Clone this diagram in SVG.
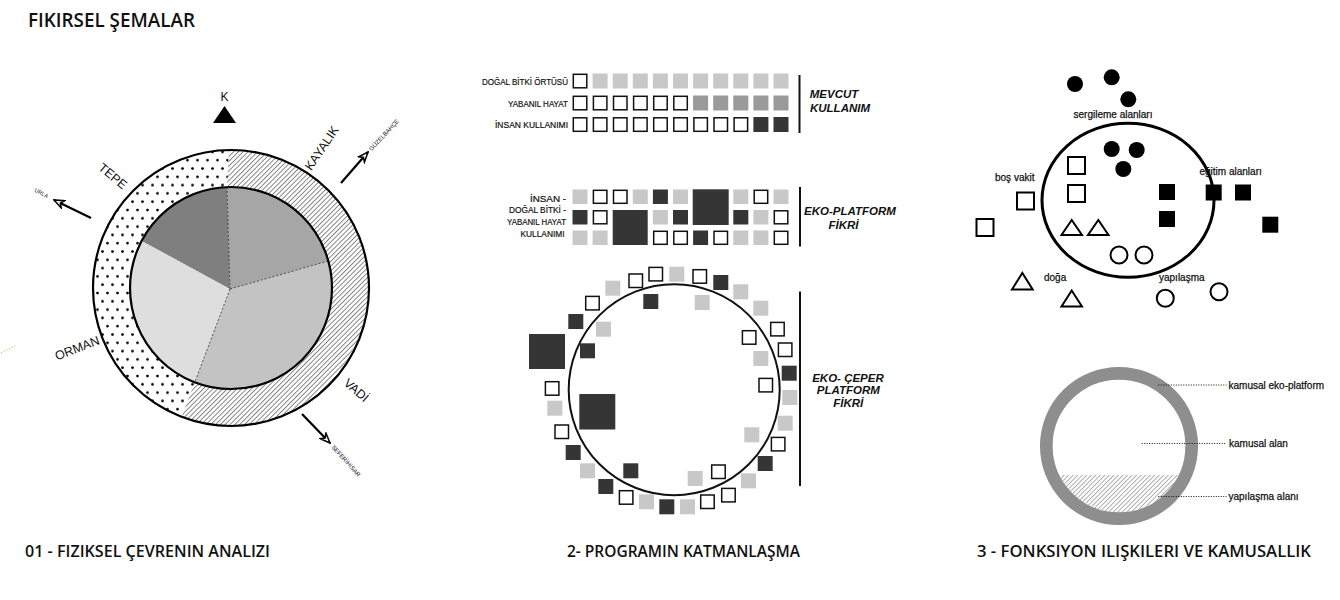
<svg xmlns="http://www.w3.org/2000/svg" width="1340" height="600" viewBox="0 0 1340 600">
<style>
.h{font-family:"Open Sans","Noto Sans","Liberation Sans",sans-serif;font-weight:600;fill:#111}
.lb{font-family:"Liberation Sans",Arial,sans-serif;fill:#111}
.bi{font-family:"Liberation Sans",Arial,sans-serif;font-weight:bold;font-style:italic;font-size:11.5px;fill:#111;text-anchor:middle}
.sm{font-family:"Liberation Sans",Arial,sans-serif;font-size:9px;fill:#111;stroke:#111;stroke-width:0.2;text-anchor:end}
.rt{font-family:"Liberation Sans",Arial,sans-serif;font-size:10px;fill:#111;stroke:#111;stroke-width:0.25}
.o{fill:#fff;stroke:#111;stroke-width:1.5}
.l{fill:#c8c8c8}
.m{fill:#9a9a9a}
.d{fill:#353535}
.ro{fill:none;stroke:#000;stroke-width:2}
.rf{fill:#000}
.dash{stroke:#333;stroke-width:0.8;stroke-dasharray:2.2,1.8;fill:none}
.arrow{stroke:#000;stroke-width:2.2;fill:none;marker-end:url(#arr)}
.lead{stroke:#111;stroke-width:1;stroke-dasharray:1,1.5;fill:none}
.bar{stroke:#111;stroke-width:2}
</style>
<defs>
<pattern id="dots" width="10" height="16.6" patternUnits="userSpaceOnUse">
<rect width="10" height="16.6" fill="#fff"/>
<circle cx="2.5" cy="2.5" r="1.4" fill="#000"/>
<circle cx="7.5" cy="10.8" r="1.4" fill="#000"/>
</pattern>
<pattern id="hatch" width="3.4" height="3.4" patternUnits="userSpaceOnUse" patternTransform="rotate(45)">
<rect width="3.4" height="3.4" fill="#fff"/>
<line x1="0.5" y1="0" x2="0.5" y2="3.4" stroke="#666" stroke-width="0.8"/>
</pattern>
<pattern id="hatch2" width="3.2" height="3.2" patternUnits="userSpaceOnUse" patternTransform="rotate(45)">
<rect width="3.2" height="3.2" fill="#fff"/>
<line x1="0.5" y1="0" x2="0.5" y2="3.2" stroke="#999" stroke-width="0.8"/>
</pattern>
<clipPath id="lowClip">
<rect x="1040" y="475" width="160" height="60"/>
</clipPath>
<marker id="arr" viewBox="0 0 12 10" refX="11" refY="5" markerWidth="12" markerHeight="10" markerUnits="userSpaceOnUse" orient="auto">
<path d="M1,1 L11,5 L1,9 L4,5 Z" fill="#fff" stroke="#000" stroke-width="1.5" stroke-linejoin="miter"/>
</marker>
</defs>
<rect width="1340" height="600" fill="#fff"/>

<g id="titles">
<text class="h" x="28" y="27" font-size="19" textLength="167" lengthAdjust="spacingAndGlyphs">FIKIRSEL ŞEMALAR</text>
<text class="h" x="25" y="557" font-size="16.5" textLength="245" lengthAdjust="spacingAndGlyphs">01 - FIZIKSEL ÇEVRENIN ANALIZI</text>
<text class="h" x="567" y="557" font-size="16.5" textLength="233" lengthAdjust="spacingAndGlyphs">2- PROGRAMIN KATMANLAŞMA</text>
<text class="h" x="977" y="557" font-size="16.5" textLength="334" lengthAdjust="spacingAndGlyphs">3 - FONKSIYON ILIŞKILERI VE KAMUSALLIK</text>
</g>

<!-- Diagram 1 -->
<g id="site-analysis">
<circle cx="231" cy="288" r="138" fill="url(#hatch)"/>
<path d="M229,150 A138,138 0 0 0 181.5,416.8 L194.8,382.3 A101,101 0 0 1 227,187.1 Z" fill="url(#dots)"/>
<path d="M230,289 L141.7,240.9 A101,101 0 0 1 227,187.1 Z" fill="#7f7f7f"/>
<path d="M230,289 L227,187.1 A101,101 0 0 1 328.3,261 Z" fill="#a6a6a6"/>
<path d="M230,289 L328.3,261 A101,101 0 0 1 194.8,382.3 Z" fill="#c3c3c3"/>
<path d="M230,289 L194.8,382.3 A101,101 0 0 1 141.7,240.9 Z" fill="#dedede"/>
<line class="dash" x1="230" y1="289" x2="227" y2="187.1"/>
<line class="dash" x1="230" y1="289" x2="328.3" y2="261"/>
<line class="dash" x1="230" y1="289" x2="194.8" y2="382.3"/>
<circle cx="231" cy="288" r="138" fill="none" stroke="#000" stroke-width="2.2"/>
<circle cx="231" cy="288" r="101" fill="none" stroke="#000" stroke-width="2.2"/>
</g>
<g id="north">
<text class="lb" x="224.5" y="101" font-size="12" text-anchor="middle">K</text>
<polygon points="213,123 236,123 224.5,106" fill="#000"/>
</g>
<g id="site-labels" class="lb" font-size="12.5" text-anchor="middle">
<text transform="translate(113,176) rotate(40)" y="4.5">TEPE</text>
<text transform="translate(321.5,148) rotate(-56)" y="4.5">KAYALIK</text>
<text transform="translate(77,348) rotate(-21)" y="4.5">ORMAN</text>
<text transform="translate(356.5,390) rotate(41)" y="4.5">VADİ</text>
<text transform="translate(41.5,193) rotate(28)" y="2" font-size="5.5">URLA</text>
<text transform="translate(384,135) rotate(-47)" y="2" font-size="6">GÜZELBAHÇE</text>
<text transform="translate(346,461) rotate(48)" y="2" font-size="6">SEFERİHİSAR</text>
</g>

<!-- Diagram 2 -->
<g id="mevcut-rows">
<text class="sm" x="568" y="85" textLength="86" lengthAdjust="spacingAndGlyphs">DOĞAL BİTKİ ÖRTÜSÜ</text>
<text class="sm" x="568" y="106.5" textLength="60" lengthAdjust="spacingAndGlyphs">YABANIL HAYAT</text>
<text class="sm" x="568" y="128" textLength="73" lengthAdjust="spacingAndGlyphs">İNSAN KULLANIMI</text>
<rect class="o" x="573.3" y="74.3" width="13.5" height="13.5"/>
<rect class="l" x="592.6" y="73.5" width="15" height="15"/>
<rect class="l" x="612.7" y="73.5" width="15" height="15"/>
<rect class="l" x="632.8" y="73.5" width="15" height="15"/>
<rect class="l" x="652.9" y="73.5" width="15" height="15"/>
<rect class="l" x="673" y="73.5" width="15" height="15"/>
<rect class="l" x="693.1" y="73.5" width="15" height="15"/>
<rect class="l" x="713.2" y="73.5" width="15" height="15"/>
<rect class="l" x="733.3" y="73.5" width="15" height="15"/>
<rect class="l" x="753.4" y="73.5" width="15" height="15"/>
<rect class="l" x="773.5" y="73.5" width="15" height="15"/>

<rect class="o" x="573.3" y="96.3" width="13.5" height="13.5"/>
<rect class="o" x="593.4" y="96.3" width="13.5" height="13.5"/>
<rect class="o" x="613.5" y="96.3" width="13.5" height="13.5"/>
<rect class="o" x="633.6" y="96.3" width="13.5" height="13.5"/>
<rect class="o" x="653.7" y="96.3" width="13.5" height="13.5"/>
<rect class="o" x="673.8" y="96.3" width="13.5" height="13.5"/>
<rect class="m" x="693.1" y="95.5" width="15" height="15"/>
<rect class="m" x="713.2" y="95.5" width="15" height="15"/>
<rect class="m" x="733.3" y="95.5" width="15" height="15"/>
<rect class="m" x="753.4" y="95.5" width="15" height="15"/>
<rect class="m" x="773.5" y="95.5" width="15" height="15"/>

<rect class="o" x="573.3" y="117.8" width="13.5" height="13.5"/>
<rect class="o" x="593.4" y="117.8" width="13.5" height="13.5"/>
<rect class="o" x="613.5" y="117.8" width="13.5" height="13.5"/>
<rect class="o" x="633.6" y="117.8" width="13.5" height="13.5"/>
<rect class="o" x="653.7" y="117.8" width="13.5" height="13.5"/>
<rect class="o" x="673.8" y="117.8" width="13.5" height="13.5"/>
<rect class="o" x="693.9" y="117.8" width="13.5" height="13.5"/>
<rect class="o" x="714" y="117.8" width="13.5" height="13.5"/>
<rect class="o" x="734.1" y="117.8" width="13.5" height="13.5"/>
<rect class="d" x="753.4" y="117" width="15" height="15"/>
<rect class="d" x="773.5" y="117" width="15" height="15"/>
<line class="bar" x1="799.5" y1="75" x2="799.5" y2="133"/>
<text class="bi" x="834" y="98">MEVCUT</text>
<text class="bi" x="840" y="112">KULLANIM</text>
</g>

<g id="eko-platform-rows">
<text class="sm" x="566" y="201.5" textLength="36" lengthAdjust="spacingAndGlyphs">İNSAN -</text>
<text class="sm" x="566" y="213" textLength="57" lengthAdjust="spacingAndGlyphs">DOĞAL BİTKİ -</text>
<text class="sm" x="566" y="225" textLength="59" lengthAdjust="spacingAndGlyphs">YABANIL HAYAT</text>
<text class="sm" x="564.5" y="236.5" textLength="44" lengthAdjust="spacingAndGlyphs">KULLANIMI</text>
<rect class="l" x="572.5" y="189.5" width="15" height="14.5"/>
<rect class="o" x="593.4" y="190.3" width="13.5" height="13"/>
<rect class="o" x="613.5" y="190.3" width="13.5" height="13"/>
<rect class="l" x="632.8" y="189.5" width="15" height="14.5"/>
<rect class="d" x="652.9" y="189.5" width="15" height="14.5"/>
<rect class="l" x="673" y="189.5" width="15" height="14.5"/>
<rect class="d" x="692.7" y="189.3" width="36" height="35.7"/>
<rect class="l" x="733.3" y="189.5" width="15" height="14.5"/>
<rect class="o" x="754.2" y="190.3" width="13.5" height="13"/>
<rect class="l" x="773.5" y="189.5" width="15" height="14.5"/>

<rect class="d" x="572.5" y="210" width="15" height="14.5"/>
<rect class="o" x="593.4" y="210.8" width="13.5" height="13"/>
<rect class="d" x="612.7" y="210" width="35" height="35"/>
<rect class="l" x="652.9" y="210" width="15" height="14.5"/>
<rect class="d" x="673" y="210" width="15" height="14.5"/>
<rect class="d" x="733.3" y="210" width="15" height="14.5"/>
<rect class="l" x="753.4" y="210" width="15" height="14.5"/>
<rect class="o" x="774.3" y="210.8" width="13.5" height="13"/>

<rect class="l" x="572.5" y="230.5" width="15" height="14.5"/>
<rect class="l" x="592.6" y="230.5" width="15" height="14.5"/>
<rect class="o" x="653.7" y="231.3" width="13.5" height="13"/>
<rect class="o" x="673.8" y="231.3" width="13.5" height="13"/>
<rect class="d" x="693.1" y="230.5" width="15" height="14.5"/>
<rect class="o" x="714" y="231.3" width="13.5" height="13"/>
<rect class="l" x="733.3" y="230.5" width="15" height="14.5"/>
<rect class="l" x="753.4" y="230.5" width="15" height="14.5"/>
<rect class="o" x="774.3" y="231.3" width="13.5" height="13"/>
<line class="bar" x1="800" y1="187" x2="800" y2="246.5"/>
<text class="bi" x="850" y="215">EKO-PLATFORM</text>
<text class="bi" x="843.5" y="229">FİKRİ</text>
</g>

<g id="eko-ceper-ring">
<circle cx="674.2" cy="389.7" r="105.5" fill="none" stroke="#111" stroke-width="2"/>
<rect class="o" x="649" y="267.4" width="13.5" height="13.5"/>
<rect class="l" x="669.3" y="266.7" width="15" height="15"/>
<rect class="o" x="693" y="269.7" width="13.5" height="13.5"/>
<rect class="d" x="713.3" y="275" width="15" height="15"/>
<rect class="l" x="733.3" y="284.3" width="15" height="15"/>
<rect class="l" x="753.3" y="300.7" width="15" height="15"/>
<rect class="o" x="770.7" y="322.4" width="13.5" height="13.5"/>
<rect class="o" x="742.4" y="330.7" width="13.5" height="13.5"/>
<rect class="o" x="778.4" y="343" width="13.5" height="13.5"/>
<rect class="l" x="753.3" y="351" width="15" height="15"/>
<rect class="d" x="781.7" y="365.7" width="15" height="15"/>
<rect class="o" x="759" y="378.4" width="13.5" height="13.5"/>
<rect class="l" x="782.3" y="390" width="15" height="15"/>
<rect class="l" x="777.7" y="415.7" width="15" height="15"/>
<rect class="l" x="744.3" y="427.3" width="15" height="15"/>
<rect class="o" x="771.4" y="437.4" width="13.5" height="13.5"/>
<rect class="d" x="757.7" y="456" width="15" height="15"/>
<rect class="l" x="741" y="473.3" width="15" height="15"/>
<rect class="o" x="721.7" y="488.4" width="13.5" height="13.5"/>
<rect class="o" x="711.7" y="465" width="13.5" height="13.5"/>
<rect class="l" x="687.7" y="471" width="15" height="15"/>
<rect class="o" x="700.7" y="495" width="13.5" height="13.5"/>
<rect class="l" x="680" y="499.3" width="15" height="15"/>
<rect class="d" x="659.3" y="499.3" width="15" height="15"/>
<rect class="l" x="639" y="494.3" width="15" height="15"/>
<rect class="o" x="619.4" y="490.7" width="13.5" height="13.5"/>
<rect class="d" x="623.3" y="463.3" width="15" height="15"/>
<rect class="d" x="598.3" y="479" width="15" height="15"/>
<rect class="l" x="580" y="463.3" width="15" height="15"/>
<rect class="d" x="565.7" y="445" width="15" height="15"/>
<rect class="o" x="555" y="425" width="13.5" height="13.5"/>
<rect class="l" x="547.3" y="400.7" width="15" height="15"/>
<rect class="o" x="545.4" y="381.7" width="13.5" height="13.5"/>
<rect class="d" x="529" y="334" width="36" height="35"/>
<rect class="d" x="579.3" y="394" width="36" height="35.5"/>
<rect class="d" x="580" y="343.3" width="15" height="15"/>
<rect class="l" x="596" y="321.7" width="15" height="15"/>
<rect class="d" x="568.3" y="314" width="15" height="15"/>
<rect class="o" x="585.7" y="296.4" width="13.5" height="13.5"/>
<rect class="l" x="605.3" y="280.7" width="15" height="15"/>
<rect class="o" x="629" y="274" width="13.5" height="13.5"/>
<rect class="d" x="643.3" y="294" width="15" height="15"/>
<rect class="l" x="694.7" y="295" width="15" height="15"/>
<line class="bar" x1="800" y1="291.5" x2="800" y2="486"/>
<text class="bi" x="848" y="382">EKO- ÇEPER</text>
<text class="bi" x="848.3" y="394">PLATFORM</text>
<text class="bi" x="848.3" y="406.5">FİKRİ</text>
</g>

<!-- Diagram 3 -->
<g id="functions">
<ellipse cx="1128" cy="200.3" rx="86" ry="77" fill="none" stroke="#000" stroke-width="3"/>
<g id="sergileme">
<circle class="rf" cx="1075" cy="84" r="8"/>
<circle class="rf" cx="1111.7" cy="77.3" r="8"/>
<circle class="rf" cx="1128.3" cy="99.3" r="8"/>
<circle class="rf" cx="1111.7" cy="149" r="8"/>
<circle class="rf" cx="1136.7" cy="150" r="8"/>
<circle class="rf" cx="1123.3" cy="169" r="8"/>
<text class="rt" x="1113" y="118" text-anchor="middle">sergileme alanları</text>
</g>
<g id="bos-vakit">
<rect class="ro" x="1068" y="157" width="17" height="17"/>
<rect class="ro" x="1068" y="185" width="17" height="17"/>
<rect class="ro" x="1017" y="192.5" width="17" height="17"/>
<rect class="ro" x="976.5" y="219" width="17" height="17"/>
<text class="rt" x="995" y="181">boş vakit</text>
</g>
<g id="egitim">
<rect class="rf" x="1159" y="184" width="16" height="16"/>
<rect class="rf" x="1159" y="211" width="16" height="16"/>
<rect class="rf" x="1205.7" y="184.5" width="16" height="16"/>
<rect class="rf" x="1235" y="184.5" width="16" height="16"/>
<rect class="rf" x="1262.3" y="216.7" width="16" height="16"/>
<text class="rt" x="1199.5" y="174.5">eğitim alanları</text>
</g>
<g id="doga">
<polygon class="ro" points="1071.7,220 1061.5,235 1082,235"/>
<polygon class="ro" points="1098.3,220 1088,235 1108.5,235"/>
<polygon class="ro" points="1022.3,273 1012,289.5 1032.7,289.5"/>
<polygon class="ro" points="1071.7,290.5 1061.5,306.5 1082,306.5"/>
<text class="rt" x="1044" y="281">doğa</text>
</g>
<g id="yapilasma">
<circle class="ro" cx="1119" cy="255" r="8.5"/>
<circle class="ro" cx="1144" cy="255" r="8.5"/>
<circle class="ro" cx="1165.3" cy="298.3" r="8.5"/>
<circle class="ro" cx="1219" cy="291.7" r="8.5"/>
<text class="rt" x="1159" y="281">yapılaşma</text>
</g>
</g>

<g id="kamusal">
<circle cx="1119" cy="446" r="66.5" fill="url(#hatch2)" clip-path="url(#lowClip)"/>
<circle cx="1119" cy="446" r="72.7" fill="none" stroke="#8e8e8e" stroke-width="12.7"/>
<text class="rt" x="1228.5" y="388.5">kamusal eko-platform</text>
<text class="rt" x="1229" y="447">kamusal alan</text>
<text class="rt" x="1228.5" y="500">yapılaşma alanı</text>
</g>

<g id="connectors">
<line class="arrow" x1="91" y1="218" x2="54" y2="200"/>
<line class="arrow" x1="341" y1="183" x2="368" y2="152"/>
<line class="arrow" x1="302" y1="414" x2="330" y2="443"/>
<line class="lead" x1="1158.3" y1="385" x2="1226.5" y2="385"/>
<line class="lead" x1="1141.7" y1="443.5" x2="1226.5" y2="443.5"/>
<line class="lead" x1="1158.3" y1="496.5" x2="1226.5" y2="496.5"/>
<line x1="1" y1="353" x2="17" y2="345" stroke="#9ab83a" stroke-width="1" stroke-dasharray="1,2"/>
</g>
</svg>
